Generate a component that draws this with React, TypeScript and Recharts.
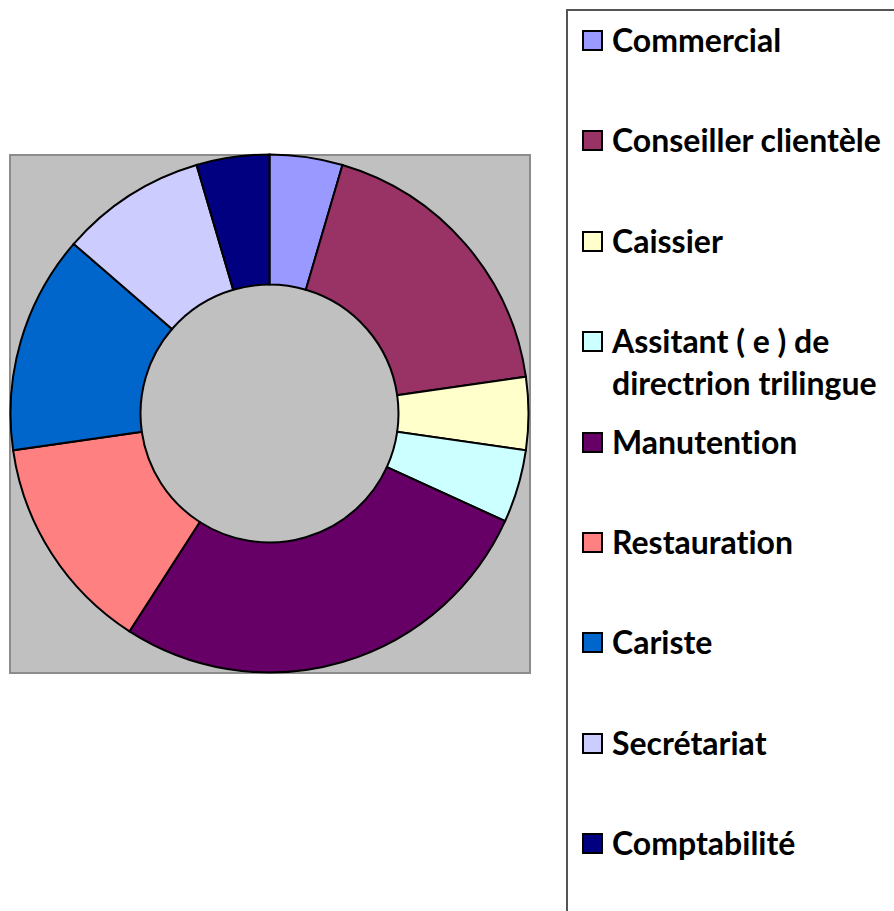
import { PieChart, Pie, Cell, Legend } from "recharts"

const jobs = [
  "Commercial",
  "Conseiller clientèle",
  "Caissier",
  "Assitant ( e ) de directrion trilingue",
  "Manutention",
  "Restauration",
  "Cariste",
  "Secrétariat",
  "Comptabilité",
]
const counts = [1, 4, 1, 1, 6, 3, 3, 2, 1]
const colors = ["#9999FF", "#993366", "#FFFFCC", "#CCFFFF", "#660066", "#FF8080", "#0066CC", "#CCCCFF", "#000080"]

const data = jobs.map((name, i) => ({ name, value: counts[i] }))

function LegendBox() {
  return (
    <div
      style={{
        position: "absolute",
        left: 566,
        top: 9,
        width: 340,
        height: 920,
        border: "2px solid #555",
        background: "#fff",
        fontFamily: "Lato, 'Open Sans', sans-serif",
        fontWeight: 700,
        fontSize: 32,
        fontVariantLigatures: "none",
        color: "#000",
      }}
    >
      {data.map((d, i) => (
        <div
          key={d.name}
          style={{
            position: "absolute",
            left: 14,
            top: 8 + i * 100.4,
            display: "flex",
            alignItems: "flex-start",
            lineHeight: "42px",
          }}
        >
          <span
            style={{
              width: 17,
              height: 17,
              marginTop: 11,
              marginRight: 9,
              border: "2px solid #000",
              background: colors[i],
              flex: "none",
            }}
          />
          <span style={{ maxWidth: 300 }}>{d.name}</span>
        </div>
      ))}
    </div>
  )
}

export default function App() {
  return (
    <div style={{ position: "absolute", left: 0, top: 0, width: 894, height: 911, background: "#fff", overflow: "hidden" }}>
      <div
        style={{
          position: "absolute",
          left: 9,
          top: 154,
          width: 518,
          height: 516,
          background: "#C0C0C0",
          border: "2px solid #8c8c8c",
        }}
      />
      <div style={{ position: "absolute", left: 0, top: 0 }}>
        <PieChart width={540} height={911} margin={{ top: 0, right: 0, bottom: 0, left: 0 }}>
          <Pie
            data={data}
            dataKey="value"
            nameKey="name"
            cx={269.5}
            cy={413.5}
            innerRadius={129}
            outerRadius={259}
            startAngle={90}
            endAngle={-270}
            stroke="#000"
            strokeWidth={2}
            isAnimationActive={false}
          >
            {data.map((d, i) => (
              <Cell key={d.name} fill={colors[i]} />
            ))}
          </Pie>
          <Legend content={() => null} />
        </PieChart>
      </div>
      <LegendBox />
    </div>
  )
}
